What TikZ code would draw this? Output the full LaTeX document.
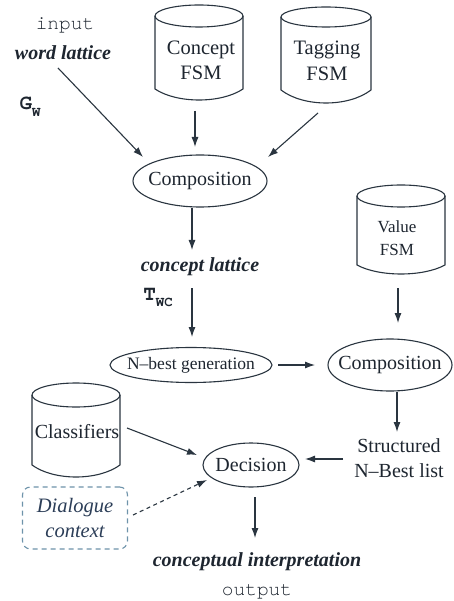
\documentclass[tikz,border=0pt]{standalone}
\usepackage{fontspec}
\setmainfont{Liberation Serif}
\setmonofont{TeX Gyre Cursor}
\usetikzlibrary{shapes.geometric,arrows.meta,calc}
\definecolor{ink}{HTML}{1E2630}
\definecolor{linec}{HTML}{2A3540}
\definecolor{dashc}{HTML}{6E93AA}
\definecolor{dlgtext}{HTML}{2C3E58}
\newcommand{\mycyl}[7]{% name, cx, ytop, halfwidth, ry, yside, ybot
  \node[inner sep=0, minimum width={2*#4}, minimum height={#7-#3}] (#1) at ({#2},{(#3+#7)/2}) {};
  \draw[shapeline] ({#2},{#3+#5}) ellipse [x radius=#4, y radius=#5];
  \draw[shapeline] ({#2-#4},{#3+#5}) -- ({#2-#4},{#6})
    .. controls ({#2-0.5*#4},{#6+1.333*(#7-#6)}) and ({#2+0.5*#4},{#6+1.333*(#7-#6)}) .. ({#2+#4},{#6})
    -- ({#2+#4},{#3+#5});
}
\tikzset{
  base/.style={inner sep=0, text=ink, font=\fontsize{20}{25}\selectfont, align=center},
  bi/.style={base, font=\fontsize{20}{25}\selectfont\bfseries\itshape},
  ttx/.style={base, font=\fontsize{19.5}{22}\selectfont\ttfamily},
  shapeline/.style={draw=linec, line width=1.1pt},
  ell/.style={shapeline, ellipse, inner sep=0},
  arr/.style={draw=linec, line width=1.1pt, -{Latex[length=10pt,width=7pt]}},
  darr/.style={arr, dash pattern=on 4pt off 3.5pt},
}
\begin{document}
\begin{tikzpicture}[x=1pt,y=-1pt]
\useasboundingbox[fill=white] (0,0) rectangle (454,601);
% text nodes
\node[ttx] (inp) at (65,25) {input};
\node[bi] (wl) at (63,53) {word lattice};
\node[base, font=\fontsize{21}{24}\selectfont\ttfamily\bfseries] (gw) at (30,107) {G\raisebox{-7pt}{\fontsize{14}{14}\selectfont W}};
\node[bi] (cl) at (200,267) {concept lattice};
\node[base, font=\fontsize{21}{24}\selectfont\ttfamily\bfseries] (twc) at (158,297) {T\raisebox{-6pt}{\fontsize{14}{14}\selectfont WC}};
\node[base] (sn) at (399,458) {Structured\\N--Best list};
\node[bi] (ci) at (257,562) {conceptual interpretation};
\node[ttx] (out) at (257,592) {output};
% cylinders
\mycyl{cfsm}{199}{5}{44}{11}{89}{100}
\node[base, font=\fontsize{20.5}{25}\selectfont] (cfsmt) at (201,60) {Concept\\FSM};
\mycyl{tfsm}{326}{7}{45}{10}{90}{103}
\node[base, font=\fontsize{20.5}{26}\selectfont] (tfsmt) at (327,61) {Tagging\\FSM};
\mycyl{vfsm}{401}{185}{44}{11}{265}{274}
\node[base, font=\fontsize{17}{23}\selectfont] (vfsmt) at (397,238) {Value\\FSM};
\mycyl{clsf}{76}{383}{44}{12}{465}{477}
\node[base] (clsft) at (77,432) {Classifiers};
% ellipses
\node[ell, minimum width=134, minimum height=52, label={[base]center:Composition}] (comp1) at (200,181) {};
\node[ell, minimum width=162, minimum height=35, label={[base, font=\fontsize{17.5}{20}\selectfont]center:N--best generation}] (nbest) at (191,365) {};
\node[ell, minimum width=124, minimum height=52, label={[base]center:Composition}] (comp2) at (390,365) {};
\node[ell, minimum width=96, minimum height=44, label={[base]center:Decision}] (dec) at (251,465) {};
% dialogue context
\node[draw=dashc, line width=1.1pt, dash pattern=on 5pt off 4pt, rounded corners=8pt, minimum width=105, minimum height=62, inner sep=0, text=dlgtext, font=\fontsize{20.5}{25}\selectfont\itshape, align=center] (dlg) at (75,518) {Dialogue\\context};
% connectors
\draw[arr] ($(wl)+(-5,15)$) -- ($(comp1)+(-57,-24)$);
\draw[arr] ($(cfsm)+(-4,58.5)$) -- ($(comp1)+(-5,-34)$);
\draw[arr] ($(tfsm)+(-8,58)$) -- ($(comp1)+(68,-24)$);
\draw[arr] ($(comp1)+(-8,27)$) -- ($(cl)+(-8,-17)$);
\draw[arr] ($(cl)+(-8,21)$) -- ($(nbest)+(1,-28)$);
\draw[arr] ($(nbest)+(87,0)$) -- ($(comp2)+(-75,0)$);
\draw[arr] ($(vfsm)+(-3,58.5)$) -- ($(comp2)+(8,-42)$);
\draw[arr] ($(comp2)+(7,27)$) -- ($(sn)+(-2,-26)$);
\draw[arr] ($(sn)+(-56,1)$) -- ($(dec)+(54,-6)$);
\draw[arr] ($(clsf)+(51,-2)$) -- ($(dec)+(-54,-10)$);
\draw[darr] ($(dlg)+(58,-3)$) -- ($(dec)+(-44,15)$);
\draw[arr] ($(dec)+(4,32)$) -- ($(ci)+(-2,-24)$);
\end{tikzpicture}
\end{document}
